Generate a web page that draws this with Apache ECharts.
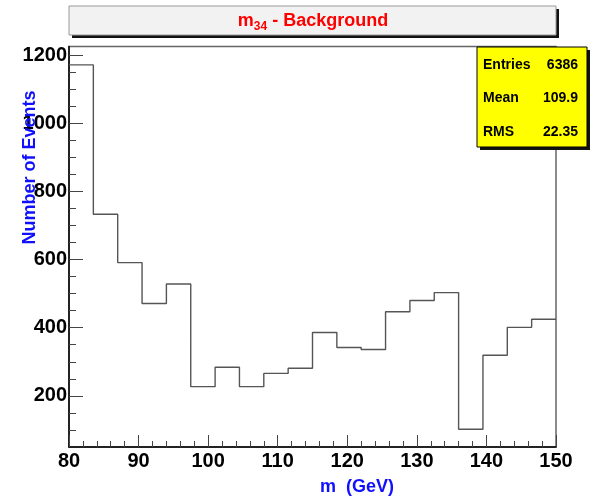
<!DOCTYPE html>
<html>
<head>
<meta charset="utf-8">
<script src="https://cdn.jsdelivr.net/npm/echarts@6/dist/echarts.min.js"></script>
<style>
  html, body { margin: 0; padding: 0; background: #fff; }
  #main { width: 597px; height: 497px; }
</style>
</head>
<body>
<div id="main"></div>
<script>
// bin low edges (GeV), width 3.5
var binLow = [80, 83.5, 87, 90.5, 94, 97.5, 101, 104.5, 108, 111.5,
              115, 118.5, 122, 125.5, 129, 132.5, 136, 139.5, 143, 146.5];
var binHigh = 150;
var counts = [1171, 733, 591, 471, 528, 227, 284, 227, 266, 281,
              386, 342, 336, 447, 480, 503, 102, 319, 401, 425];
var yMajor = [200, 400, 600, 800, 1000, 1200];
var yMinor = [100, 150, 250, 300, 350, 450, 500, 550, 650, 700, 750,
              850, 900, 950, 1050, 1100, 1150];
var statNames = ['Entries', 'Mean', 'RMS'];
var statValues = ['6386', '109.9', '22.35'];

var font = '"Liberation Sans", Arial, Helvetica, sans-serif';

var stepData = [];
for (var i = 0; i < binLow.length; i++) {
  stepData.push([binLow[i], counts[i]]);
}
stepData.push([binHigh, counts[counts.length - 1]]);

var chart = echarts.init(document.getElementById('main'), null, {renderer: 'canvas'});

var statTexts = [];
for (var k = 0; k < statNames.length; k++) {
  statTexts.push({
    type: 'text', left: 483, top: 58 + k * 33.5, z: 12,
    style: {text: statNames[k], fill: '#000', font: 'bold 14px ' + font}
  });
  statTexts.push({
    type: 'text', right: 19, top: 58 + k * 33.5, z: 12,
    style: {text: statValues[k], fill: '#000', font: 'bold 14px ' + font, textAlign: 'right'}
  });
}

var option = {
  backgroundColor: '#ffffff',
  animation: false,
  grid: {
    left: 69, right: 41, top: 46.5, bottom: 50,
    show: true, borderColor: '#666', borderWidth: 1.5, backgroundColor: '#fff'
  },
  xAxis: {
    type: 'value', min: 80, max: 150, interval: 10,
    axisLine: {show: true, onZero: false, lineStyle: {color: '#000', width: 1.5}},
    axisTick: {show: true, inside: true, length: 12, lineStyle: {color: '#444'}},
    minorTick: {show: true, splitNumber: 5, length: 6, lineStyle: {color: '#444'}},
    axisLabel: {color: '#000', fontFamily: font, fontWeight: 'bold', fontSize: 20, margin: 4},
    splitLine: {show: false}
  },
  yAxis: [{
    type: 'value', min: 50, max: 1225,
    axisLine: {show: true, onZero: false, lineStyle: {color: '#000', width: 1.5}},
    axisTick: {show: true, inside: true, length: 14, customValues: yMajor, lineStyle: {color: '#444'}},
    axisLabel: {
      customValues: yMajor, color: '#000', fontFamily: font, fontWeight: 'bold', fontSize: 20, margin: 2,
      formatter: function (v) { return String(v); }
    },
    splitLine: {show: false}
  }, {
    type: 'value', min: 50, max: 1225, position: 'left',
    axisLine: {show: false},
    axisTick: {show: true, inside: true, length: 7, customValues: yMinor, lineStyle: {color: '#444'}},
    axisLabel: {show: false},
    splitLine: {show: false}
  }],
  series: [{
    type: 'line',
    step: 'end',
    data: stepData,
    showSymbol: false,
    lineStyle: {color: '#555', width: 1.4},
    z: 3
  }],
  graphic: [
    // title box
    {type: 'rect', shape: {x: 72, y: 9, width: 487, height: 29}, style: {fill: '#111'}, z: 10},
    {type: 'rect', shape: {x: 69, y: 6, width: 487, height: 29}, style: {fill: '#f2f2f2', stroke: '#999', lineWidth: 1}, z: 11},
    {type: 'text', x: 313, y: 21, z: 12,
      style: {
        text: '{m|m}{s|34}{m| - Background}',
        textAlign: 'center', textVerticalAlign: 'middle',
        rich: {
          m: {fill: '#ff0000', font: 'bold 18px ' + font},
          s: {fill: '#ff0000', font: 'bold 12px ' + font, padding: [11, 0, 0, 0]}
        }
      }
    },
    // stats box
    {type: 'rect', shape: {x: 480, y: 50, width: 110, height: 100}, style: {fill: '#111'}, z: 10},
    {type: 'rect', shape: {x: 477, y: 47, width: 110, height: 100}, style: {fill: '#ffff00', stroke: '#000', lineWidth: 1}, z: 11}
  ].concat(statTexts).concat([
    // axis titles
    {type: 'text', x: 30.5, y: 167.5, rotation: Math.PI / 2, z: 12,
      style: {text: 'Number of Events', fill: '#1010ff', font: 'bold 18px ' + font, textAlign: 'center', textVerticalAlign: 'middle'}},
    {type: 'text', x: 357, y: 487, z: 12,
      style: {text: 'm  (GeV)', fill: '#1010ff', font: 'bold 18px ' + font, textAlign: 'center', textVerticalAlign: 'middle'}}
  ])
};

chart.setOption(option);
</script>
</body>
</html>
